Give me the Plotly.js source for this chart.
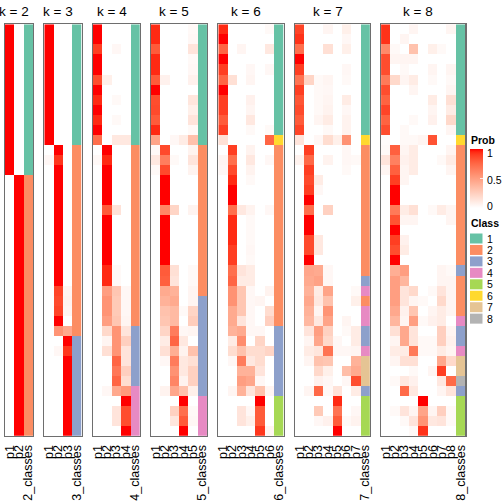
<!DOCTYPE html>
<html><head><meta charset="utf-8">
<script src="https://cdn.plot.ly/plotly-3.0.1.min.js"></script>
<style>html,body{margin:0;padding:0;background:#fff}#chart{width:504px;height:504px}</style>
</head><body><div id="chart"></div>
<script>
// ---- data: membership probabilities per sample (rows) and class per sample ----
const kValues = [2,3,4,5,6,7,8];
const classLabels = ['1','2','3','4','5','6','7','8'];
const probTicks = [0, 0.5, 1];

const probK2 = [
[1,0],[1,0],[1,0],[1,0],[1,0],[1,0],[1,0],[1,0],[1,0],[1,0],[1,0],[1,0],[1,0],[1,0],[1,0],
[0,1],[0,1],[0,1],[0,1],[0,1],[0,1],[0,1],[0,1],[0,1],[0,1],[0,1],[0,1],[0,1],[0,1],[0,1],[0,1],[0,1],[0,1],[0,1],[0,1],[0,1],[0,1],[0,1],[0,1],[0,1],[0,1]];
const classK2 = [1,1,1,1,1,1,1,1,1,1,1,1,1,1,1,2,2,2,2,2,2,2,2,2,2,2,2,2,2,2,2,2,2,2,2,2,2,2,2,2,2];

const probK3 = [
[1,0,0],[1,0,0],[1,0,0],[1,0,0],[1,0,0],[1,0,0],[1,0,0],[1,0,0],[1,0,0],[1,0,0],[1,0,0],[1,0,0],
[0,1,0],[0.04,0.92,0],[0,1,0],[0,1,0],[0,1,0],[0,1,0],[0,1,0],[0,1,0],[0,1,0],[0,1,0],[0,1,0],[0,1,0],[0,1,0],[0,1,0],
[0,0.88,0.05],[0,0.86,0.06],[0,0.88,0.05],[0,1,0],[0,0.55,0.45],
[0,0,1],[0,0.04,0.92],[0,0,1],[0,0,1],[0,0,1],[0,0,1],[0,0,1],[0,0,1],[0,0,1],[0,0,1]];
const classK3 = [1,1,1,1,1,1,1,1,1,1,1,1,2,2,2,2,2,2,2,2,2,2,2,2,2,2,2,2,2,2,2,3,3,3,3,3,3,3,3,3,3];

const probK4 = [
[1,0,0,0],[1,0,0,0],[0.9,0,0.04,0],[1,0,0,0],[1,0,0,0],[0.85,0.08,0,0],[1,0,0,0],[0.95,0,0.03,0],[1,0,0,0],[0.95,0,0.03,0],[1,0,0,0],[0.72,0,0.12,0.12],
[0,1,0,0],[0.03,0.95,0,0],[0,1,0,0],[0,1,0,0],[0,1,0,0],[0,1,0,0],[0,0.8,0.15,0],[0,1,0,0],[0,1,0,0],[0,1,0,0],[0,1,0,0],[0,1,0,0],[0,0.95,0.03,0],[0,0.95,0.03,0],
[0,0.5,0.3,0.04],[0,0.55,0.28,0.04],[0,0.55,0.28,0.04],[0,0.5,0.3,0.05],
[0,0.2,0.55,0.14],[0,0.05,0.55,0.25],[0,0.16,0.55,0.14],[0,0,0.76,0.14],[0,0,0.68,0.25],[0,0,0.76,0.18],
[0,0.04,0.45,0.52],[0,0,0,1],[0,0,0.14,0.85],[0,0,0.14,0.85],[0,0,0,1]];
const classK4 = [1,1,1,1,1,1,1,1,1,1,1,1,2,2,2,2,2,2,2,2,2,2,2,2,2,2,2,2,2,2,3,3,3,3,3,3,4,4,4,4,4];

const probK5 = [
[0.95,0,0,0,0.03],[0.95,0,0,0,0.04],[0.8,0,0,0,0.14],[0.95,0,0,0,0.03],[0.95,0,0,0,0.04],[0.8,0.07,0,0,0.07],[1,0,0,0,0],[0.85,0,0,0,0.13],[0.86,0,0,0,0.08],[0.8,0,0,0,0.14],[0.95,0,0,0,0.03],[0.47,0,0.04,0.1,0.33],
[0.03,0.86,0,0,0.06],[0.12,0.65,0.03,0,0.14],[0.03,0.86,0,0,0.06],[0,1,0,0,0],[0,1,0,0,0],[0,1,0,0,0],[0,0.62,0.22,0,0.06],[0,1,0,0,0],[0,1,0,0,0],[0,1,0,0,0],[0,1,0,0,0],[0,1,0,0,0],[0,0.8,0.16,0,0.03],[0,0.78,0.14,0,0.03],[0,0.44,0.4,0,0.05],
[0,0.4,0.44,0,0.05],[0,0.32,0.36,0.03,0.22],[0,0.3,0.36,0,0.26],[0,0.22,0.66,0.04,0.05],[0,0.1,0.76,0.12,0],[0,0.16,0.42,0.06,0.32],[0,0.04,0.66,0.12,0.16],[0,0,0.56,0.12,0.24],[0,0,0.62,0.06,0.24],[0,0.06,0.46,0.32,0.08],
[0,0,0,1,0],[0,0,0.24,0.72,0.03],[0,0,0.13,0.8,0.04],[0,0,0,1,0]];
const classK5 = [1,1,1,1,1,1,1,1,1,1,1,1,2,2,2,2,2,2,2,2,2,2,2,2,2,2,2,3,3,3,3,3,3,3,3,3,3,4,4,4,4];

const probK6 = [
[0.95,0,0,0,0,0.03],[1,0,0,0,0,0],[0.76,0,0.05,0,0,0.12],[1,0,0,0,0,0],[0.9,0,0,0.04,0,0.04],[0.76,0.16,0,0.05,0,0],[1,0,0,0,0,0],[0.9,0,0,0.07,0,0],[0.9,0,0,0.05,0,0],[0.8,0,0,0.12,0,0],[0.9,0,0,0.03,0,0.03],
[0.16,0,0,0,0,0.76],
[0,0.9,0,0.06,0,0],[0.05,0.72,0,0.12,0,0.04],[0.04,0.86,0,0.06,0,0],[0,0.95,0,0.03,0,0],[0,1,0,0,0,0],[0,1,0,0,0,0],[0,0.72,0.12,0.06,0,0.04],[0,0.95,0,0.03,0,0],[0,0.95,0,0.03,0,0],[0,0.95,0,0.03,0,0],[0,0.9,0,0.04,0,0],[0,0.9,0,0.03,0,0],[0,0.72,0.14,0.1,0,0],[0,0.76,0.1,0.1,0,0],[0,0.56,0.3,0.04,0,0.06],[0,0.56,0.3,0.04,0.05,0],[0,0.44,0.3,0.04,0,0.18],[0,0.44,0.14,0.04,0,0.25],
[0,0.4,0.44,0.04,0.04,0],[0,0.1,0.58,0,0.22,0],[0,0.18,0.32,0.18,0.18,0.22],[0,0.04,0.66,0.12,0.18,0],[0,0,0.4,0.4,0.14,0],[0,0,0.5,0.46,0.04,0],[0,0.05,0.4,0.14,0.32,0.05],
[0,0,0,0,1,0],[0,0,0.14,0.04,0.8,0],[0,0,0.14,0.08,0.8,0],[0,0,0,0,0.92,0.05]];
const classK6 = [1,1,1,1,1,1,1,1,1,1,1,6,2,2,2,2,2,2,2,2,2,2,2,2,2,2,2,2,2,2,3,3,3,3,3,3,3,5,5,5,5];

const probK7 = [
[0.88,0,0,0.05,0,0.08,0],[0.93,0,0,0,0,0.04,0],[0.72,0,0,0.16,0,0.08,0],[1,0,0,0,0,0,0],[0.9,0,0,0,0,0.04,0],[0.7,0.22,0.03,0.05,0,0.03,0],[0.9,0,0.03,0.04,0,0,0],[0.82,0,0.03,0.05,0,0.1,0],[0.86,0,0.03,0.06,0,0.04,0],[0.8,0,0.05,0.1,0,0.06,0],[0.88,0,0,0.03,0,0.06,0],
[0.14,0,0.04,0.18,0.08,0.56,0],
[0,0.9,0,0,0,0.04,0],[0.06,0.75,0,0.06,0,0.04,0.03],[0,0.9,0,0,0,0.03,0],[0,0.86,0.1,0,0,0,0],[0,0.9,0.04,0,0,0,0],[0,1,0,0,0,0,0],[0,0.72,0,0.24,0,0,0],[0,1,0,0,0,0,0],[0,1,0,0,0,0,0],[0,0.86,0.12,0,0,0,0],[0,0.86,0.12,0,0,0,0],[0,1,0,0,0,0,0],[0,0.46,0.44,0.04,0,0,0],
[0,0.44,0.48,0.04,0,0,0],[0,0.4,0.1,0.47,0,0,0.03],[0,0.45,0.12,0.32,0,0,0.08],[0,0.4,0.05,0.55,0,0,0],[0,0.37,0.12,0.47,0,0.05,0],[0,0.14,0.5,0.24,0,0.03,0.1],[0,0.05,0.46,0.2,0.04,0,0.1],[0,0.1,0.13,0.7,0.04,0.04,0.05],
[0,0.05,0.32,0.3,0,0,0.4],[0,0,0.2,0.08,0,0.34,0.44],[0,0,0.07,0.04,0,0.04,0.85],[0,0.05,0.75,0.03,0.15,0,0.1],
[0,0,0,0,0.95,0,0],[0,0,0.28,0,0.7,0,0.04],[0,0,0.04,0.07,0.8,0.03,0.06],[0,0,0,0,1,0,0]];
const classK7 = [1,1,1,1,1,1,1,1,1,1,1,6,2,2,2,2,2,2,2,2,2,2,2,2,2,3,4,2,4,4,3,3,4,7,7,7,3,5,5,5,5];

const probK8 = [
[0.93,0,0,0.05,0,0,0,0.05],[0.93,0,0.05,0,0,0,0,0],[0.6,0.03,0,0.32,0,0.08,0.03,0],[0.85,0.05,0.05,0.05,0,0,0,0],[0.85,0,0.03,0,0,0.05,0,0.05],[0.67,0.2,0.05,0.1,0,0.03,0,0.03],[0.85,0,0,0.05,0,0,0,0.05],[0.77,0,0,0,0,0.1,0,0.16],[0.88,0,0,0,0,0.05,0,0.1],[0.77,0,0,0.03,0,0.07,0,0.2],[0.85,0,0.03,0,0,0,0,0.05],
[0.02,0,0.03,0.03,0.05,0.83,0,0],
[0.03,0.78,0.05,0.1,0,0,0,0.05],[0.14,0.64,0.07,0.1,0,0,0.03,0.1],[0.05,0.78,0.05,0.1,0,0,0,0.05],[0,0.9,0.05,0,0,0,0,0],[0,1,0,0,0,0,0,0],[0,1,0,0,0,0,0,0],[0,0.67,0.1,0.16,0,0.03,0.1,0.05],[0,0.83,0.05,0.05,0,0,0,0.05],[0,1,0,0,0,0,0,0],[0,0.9,0.07,0,0,0,0,0],[0,0.85,0.1,0,0,0,0,0],[0,1,0,0,0,0,0,0],
[0,0.42,0.5,0,0,0,0.05,0.03],[0,0.5,0.38,0,0,0,0.05,0.05],[0,0.5,0.14,0.2,0,0.03,0.14,0.05],[0,0.5,0.14,0.05,0.03,0,0.2,0.05],[0,0.45,0.07,0.3,0,0.05,0.1,0.05],[0,0.38,0.05,0.5,0.03,0.07,0.1,0],
[0,0.16,0.45,0.14,0,0,0.25,0.05],[0,0.05,0.45,0.14,0.03,0.03,0.25,0.07],[0,0.1,0.1,0.67,0.03,0.03,0.1,0.05],[0,0.05,0.16,0.16,0,0,0.45,0.2],[0,0,0,0.03,0,0.05,0.9,0],[0,0.03,0.12,0.07,0,0,0.12,0.74],[0,0,0.74,0.12,0,0,0.05,0.14],
[0,0,0,0,1,0,0,0],[0,0.03,0.14,0.05,0.47,0.05,0.25,0.03],[0,0,0.03,0.14,0.55,0.12,0.14,0.03],[0,0,0,0.03,0.93,0,0,0]];
const classK8 = [1,1,1,1,1,1,1,1,1,1,1,6,2,2,2,2,2,2,2,2,2,2,2,2,3,2,2,2,2,4,3,3,4,7,7,8,3,5,5,5,5];

const probByK = [probK2, probK3, probK4, probK5, probK6, probK7, probK8];
const classByK = [classK2, classK3, classK4, classK5, classK6, classK7, classK8];

// ---- styles ----
const classColors = ['#66C2A5','#FC8D62','#8DA0CB','#E78AC3','#A6D854','#FFD92F','#E5C494','#B3B3B3'];
const FONT = 'Liberation Sans, Arial, Helvetica, sans-serif';
const W = 504, H = 504;
const cellW = 9.35, gapPx = 11.25, left0 = 5.0;
const topPx = 24.3, bottomPx = 435.8;
const barTop = 149, barBottom = 207.5;   // Prob colour bar, px
const labelPx = [206, 179.5, 152.5];      // label centres for 0, 0.5, 1

// white -> red interpolated in CIE Lab (like colorRamp2)
function lab2rgb(L, a, b) {
  const fy = (L + 16) / 116, fx = fy + a / 500, fz = fy - b / 200;
  const finv = t => t > 0.206897 ? t * t * t : (t - 16 / 116) / 7.787;
  const X = 0.95047 * finv(fx), Y = finv(fy), Z = 1.08883 * finv(fz);
  const r = 3.2406 * X - 1.5372 * Y - 0.4986 * Z;
  const g = -0.9689 * X + 1.8758 * Y + 0.0415 * Z;
  const bb = 0.0557 * X - 0.2040 * Y + 1.0570 * Z;
  const gam = c => { c = c <= 0.0031308 ? 12.92 * c : 1.055 * Math.pow(Math.max(c, 0), 1 / 2.4) - 0.055; return Math.round(Math.max(0, Math.min(1, c)) * 255); };
  return 'rgb(' + gam(r) + ',' + gam(g) + ',' + gam(bb) + ')';
}
const probScale = [];
for (let i = 0; i <= 20; i++) {
  const t = i / 20;
  probScale.push([t, lab2rgb(100 - 46.76 * t, 80.09 * t, 67.20 * t)]);
}
const classScale = [];
classColors.forEach((c, i) => { classScale.push([i / 8, c]); classScale.push([(i + 1) / 8, c]); });

const traces = [], layout = {
  width: W, height: H, margin: {l: 0, r: 0, t: 0, b: 0},
  paper_bgcolor: '#fff', plot_bgcolor: '#fff', showlegend: false,
  font: {family: FONT, color: '#000'},
  annotations: [], shapes: []
};

let x0 = left0;
kValues.forEach((k, i) => {
  const n = i + 1;
  const xa = n === 1 ? 'x' : 'x' + n, ya = n === 1 ? 'y' : 'y' + n;
  const pNames = [];
  for (let j = 1; j <= k; j++) pNames.push('p' + j);
  const cName = k + '_classes';
  const cats = pNames.concat([cName]);
  const prob = probByK[i], cls = classByK[i];
  const rows = prob.map((_, r) => r);
  const w = (k + 1) * cellW;
  // probability cells (class column left empty)
  traces.push({
    type: 'heatmap', x: cats, y: rows, z: prob.map(r => r.concat([null])), xaxis: xa, yaxis: ya,
    colorscale: probScale, zmin: 0, zmax: 1, hoverinfo: 'skip',
    showscale: i === 0,
    colorbar: {
      x: 469.5 / W, xanchor: 'left', y: 1 - barTop / H, yanchor: 'top',
      len: barBottom - barTop, lenmode: 'pixels', thickness: 13, thicknessmode: 'pixels',
      outlinewidth: 0, xpad: 0, ypad: 0,
      tickmode: 'array', tickvals: probTicks, showticklabels: false,
      ticks: 'inside', ticklen: 3, tickwidth: 1, tickcolor: 'rgba(255,255,255,0.8)'
    }
  });
  // class column (probability columns left empty)
  traces.push({
    type: 'heatmap', x: cats, y: rows,
    z: cls.map(c => pNames.map(() => null).concat([c])), xaxis: xa, yaxis: ya,
    colorscale: classScale, zmin: 0.5, zmax: 8.5, showscale: false, hoverinfo: 'skip'
  });
  const keyX = 'xaxis' + (n === 1 ? '' : n), keyY = 'yaxis' + (n === 1 ? '' : n);
  layout[keyX] = {
    domain: [x0 / W, (x0 + w) / W], anchor: ya, type: 'category',
    categoryorder: 'array', categoryarray: cats,
    range: [-0.5, k + 0.5], fixedrange: true,
    tickmode: 'array', tickvals: cats, ticktext: cats,
    tickangle: -90, ticks: '', ticklen: 0, ticklabelstandoff: 3,
    showgrid: false, zeroline: false,
    showline: true, mirror: true, linecolor: '#6e6e6e', linewidth: 1.3,
    tickfont: {size: 12.5, family: FONT, color: '#000'}
  };
  layout[keyY] = {
    domain: [1 - bottomPx / H, 1 - topPx / H], anchor: xa,
    range: [prob.length - 0.5, -0.5], showticklabels: false, ticks: '',
    showgrid: false, zeroline: false, fixedrange: true,
    showline: true, mirror: true, linecolor: '#6e6e6e', linewidth: 1.3
  };
  layout.annotations.push({
    text: 'k = ' + k, xref: 'paper', yref: 'paper',
    x: (x0 + k * cellW / 2) / W, y: 1 - 11 / H, xanchor: 'center', yanchor: 'middle',
    showarrow: false, font: {size: 13.5, family: FONT, color: '#000'}
  });
  x0 += w + gapPx;
});

// Prob legend title and labels
layout.annotations.push({
  text: '<b>Prob</b>', xref: 'paper', yref: 'paper', x: 469 / W, y: 1 - 140 / H,
  xanchor: 'left', yanchor: 'middle', showarrow: false, font: {size: 10.5, family: FONT}
});
probTicks.forEach((v, i) => {
  layout.annotations.push({
    text: String(v), xref: 'paper', yref: 'paper', x: 485 / W, y: 1 - labelPx[i] / H,
    xanchor: 'left', yanchor: 'middle', showarrow: false, font: {size: 10.5, family: FONT}
  });
});

// Class legend
layout.annotations.push({
  text: '<b>Class</b>', xref: 'paper', yref: 'paper', x: 469 / W, y: 1 - 223 / H,
  xanchor: 'left', yanchor: 'middle', showarrow: false, font: {size: 10.5, family: FONT}
});
classLabels.forEach((lab, i) => {
  const yt = 233.5 + i * 11.45;
  layout.shapes.push({
    type: 'rect', xref: 'paper', yref: 'paper', x0: 470 / W, x1: 482.5 / W,
    y0: 1 - yt / H, y1: 1 - (yt + 10) / H, fillcolor: classColors[i], line: {width: 0}
  });
  layout.annotations.push({
    text: lab, xref: 'paper', yref: 'paper', x: 485 / W, y: 1 - (yt + 5) / H,
    xanchor: 'left', yanchor: 'middle', showarrow: false, font: {size: 10.5, family: FONT}
  });
});

Plotly.newPlot('chart', traces, layout, {staticPlot: true, displayModeBar: false});
</script></body></html>
